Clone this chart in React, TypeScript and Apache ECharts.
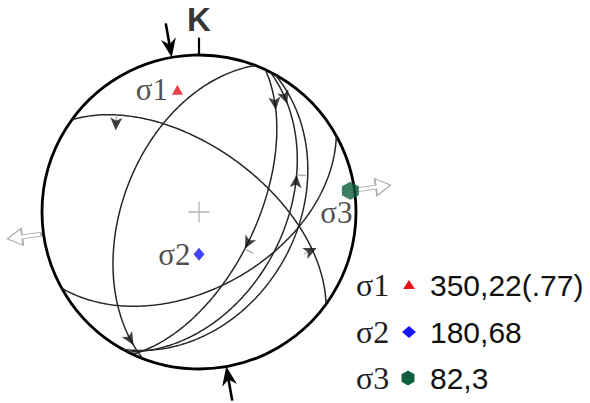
import React, { useEffect, useRef } from 'react';
import * as echarts from 'echarts';

// ---- data ----
const sigmaNames = ['σ1', 'σ2', 'σ3'];
const sigmaTrend = [350, 180, 82];
const sigmaPlunge = [22, 68, 3];
const stressRatio = '.77';
const sigmaColors = ['#e5121c', '#1414ff', '#0c5f3d'];

// fault planes (dip direction, dip)
const planeDipDir = [36, 291, 151, 115, 117, 119];
const planeDip = [57, 50, 50, 60, 45, 38];

// slip markers on planes
const slipPlane = [0, 0, 1, 3, 3, 4, 4];
const slipPos = [24, 150, 8, 23, 97, 17, 52];
const slipTurn = [90, -90, 180, 0, 0, 0, 180];
const slipOffset = [0.1, 0.03, 0, 0, 0, 0, 0];
const slipTickLen = [0.07, 0.06, 0, 0, 0.06, 0, 0.06];
const slipTickTurn = [90, 90, 0, 0, -90, 0, -90];

// ---- geometry helpers ----
const D2R = Math.PI / 180;
const norm = (a: number) => ((a % 360) + 360) % 360;
function linePolar(trend: number, plunge: number): [number, number] {
  return [Math.SQRT2 * Math.sin(((90 - plunge) / 2) * D2R), norm(trend)];
}
function planeLine(dd: number, dip: number, t: number): [number, number] {
  const st = (dd - 90) * D2R, ddr = dd * D2R, dr = dip * D2R, tr = t * D2R;
  const s = [Math.sin(st), Math.cos(st), 0];
  const d = [Math.sin(ddr) * Math.cos(dr), Math.cos(ddr) * Math.cos(dr), Math.sin(dr)];
  const v = s.map((si, i) => Math.cos(tr) * si + Math.sin(tr) * d[i]);
  const pl = Math.asin(Math.max(-1, Math.min(1, v[2]))) / D2R;
  const tr2 = Math.atan2(v[0], v[1]) / D2R;
  return linePolar(tr2, Math.max(0, pl));
}
const toXY = (p: [number, number]) => [p[0] * Math.sin(p[1] * D2R), p[0] * Math.cos(p[1] * D2R)];
const fromXY = (x: number, y: number): [number, number] => [Math.hypot(x, y), norm(Math.atan2(x, y) / D2R)];
const move = (p: [number, number], az: number, dist: number): [number, number] => {
  const [x, y] = toXY(p);
  return fromXY(x + dist * Math.sin(az * D2R), y + dist * Math.cos(az * D2R));
};

const R = 157;
const CX = 199;
const CY = 212;

const hexPath = 'path://M10,0 L18.66,5 L18.66,15 L10,20 L1.34,15 L1.34,5 Z';
const hollowArrow = 'path://M9,0 L18,15 L11,15 L11,34 L7,34 L7,15 L0,15 Z';
const crossPath = 'path://M9.4,0 h1.2 v9.4 h9.4 v1.2 h-9.4 v9.4 h-1.2 v-9.4 h-9.4 v-1.2 h9.4 z';

function buildOption() {
  const series: any[] = [];
  planeDipDir.forEach((dd, i) => {
    series.push({
      type: 'line', coordinateSystem: 'polar', silent: true, clip: false,
      showSymbol: false, symbol: 'none', z: 2,
      lineStyle: { color: '#262626', width: 1.5 },
      data: Array.from({ length: 181 }, (_, t) => planeLine(dd, planeDip[i], t)),
    });
  });

  const slipData: any[] = [];
  slipPlane.forEach((pi, k) => {
    const dd = planeDipDir[pi], dip = planeDip[pi], t = slipPos[k];
    const a = planeLine(dd, dip, t);
    const p0 = toXY(planeLine(dd, dip, t - 0.5));
    const p1 = toXY(planeLine(dd, dip, t + 0.5));
    const tan = Math.atan2(p1[0] - p0[0], p1[1] - p0[1]) / D2R;
    const dir = tan + slipTurn[k];
    slipData.push({ value: move(a, dir, slipOffset[k]), symbolRotate: -dir });
    if (slipTickLen[k] > 0) {
      series.push({
        type: 'line', coordinateSystem: 'polar', silent: true, clip: false,
        showSymbol: false, symbol: 'none', z: 3,
        lineStyle: { color: '#a8a8a8', width: 1.2 },
        data: [a, move(a, tan + slipTickTurn[k], slipTickLen[k])],
      });
    }
  });
  series.push({
    type: 'scatter', coordinateSystem: 'polar', silent: true, clip: false, z: 5,
    symbol: 'arrow', symbolSize: [9, 13], itemStyle: { color: '#111' },
    data: slipData,
  });

  // compression arrows (sigma1) and north tick, drawn with a custom series
  const compAz = [sigmaTrend[0], norm(sigmaTrend[0] + 180)];
  series.push({
    type: 'custom', coordinateSystem: 'polar', silent: true, clip: false, z: 6,
    data: compAz.map((az) => [1.0, az]),
    renderItem: (params: any, api: any) => {
      const r = api.value(0);
      const az = api.value(1);
      const tip = api.coord([r, az]);
      const tail = api.coord([r + 0.22, az]);
      const L = Math.hypot(tail[0] - tip[0], tail[1] - tip[1]);
      const ux = (tail[0] - tip[0]) / L, uy = (tail[1] - tip[1]) / L;
      const nx = -uy, ny = ux;
      const hl = 19, hw = 7.5, notch = 13;
      return {
        type: 'group',
        children: [
          {
            type: 'line',
            shape: { x1: tip[0] + ux * notch, y1: tip[1] + uy * notch, x2: tail[0], y2: tail[1] },
            style: { stroke: '#000', lineWidth: 2.6 },
          },
          {
            type: 'polygon',
            shape: {
              points: [
                [tip[0], tip[1]],
                [tip[0] + ux * hl + nx * hw, tip[1] + uy * hl + ny * hw],
                [tip[0] + ux * notch, tip[1] + uy * notch],
                [tip[0] + ux * hl - nx * hw, tip[1] + uy * hl - ny * hw],
              ],
            },
            style: { fill: '#000' },
          },
        ],
      };
    },
  });
  series.push({
    type: 'custom', coordinateSystem: 'polar', silent: true, clip: false, z: 6,
    data: [[1.0, 0]],
    renderItem: (params: any, api: any) => {
      const a = api.coord([api.value(0), api.value(1)]);
      const b = api.coord([api.value(0) + 0.11, api.value(1)]);
      return {
        type: 'line',
        shape: { x1: a[0], y1: a[1], x2: b[0], y2: b[1] },
        style: { stroke: '#000', lineWidth: 2.2 },
      };
    },
  });

  // extension arrows (sigma3)
  series.push({
    type: 'scatter', coordinateSystem: 'polar', silent: true, clip: false, z: 6,
    symbol: hollowArrow, symbolSize: [17, 34],
    itemStyle: { color: '#fff', borderColor: '#9a9a9a', borderWidth: 1.3 },
    data: [sigmaTrend[2], norm(sigmaTrend[2] + 180)].map((az) => ({
      value: [1.125, az], symbolRotate: -az,
    })),
  });

  // centre cross
  series.push({
    type: 'scatter', coordinateSystem: 'polar', silent: true, clip: false, z: 1,
    symbol: crossPath, symbolSize: 21, itemStyle: { color: '#a0a0a0' },
    data: [[0, 0]],
  });

  // K label
  series.push({
    type: 'scatter', coordinateSystem: 'polar', silent: true, clip: false, z: 6,
    symbolSize: 1, itemStyle: { color: 'rgba(0,0,0,0)' },
    label: {
      show: true, position: 'top', distance: 1, formatter: 'K',
      fontSize: 33, fontWeight: 'bold', fontFamily: 'Liberation Sans', color: '#000',
    },
    data: [[1.11, 0]],
  });

  // stress axes
  const symbols = ['triangle', 'diamond', hexPath];
  const sizes = [[11, 10], [11, 13], [17, 18]];
  const labelPos: any[] = [
    { position: 'left', distance: 4 },
    { position: 'left', distance: 3 },
    { position: 'bottom', distance: 0, offset: [-14, -3] },
  ];
  series.push({
    type: 'scatter', coordinateSystem: 'polar', silent: true, clip: false, z: 8,
    data: sigmaNames.map((n, i) => ({
      name: n,
      value: linePolar(sigmaTrend[i], sigmaPlunge[i]),
      symbol: symbols[i],
      symbolSize: sizes[i],
      itemStyle: { color: sigmaColors[i] },
      label: {
        show: true, formatter: n, fontSize: 31, fontFamily: 'Liberation Serif',
        color: '#1e1e1e', ...labelPos[i],
      },
    })),
  });

  // legend (graphic)
  const rowY = [285, 332, 378];
  const mx = 409;
  const graphic: any[] = [];
  sigmaNames.forEach((n, i) => {
    const y = rowY[i];
    graphic.push({
      type: 'text', x: 356, y: y, z: 10,
      style: {
        text: n, font: '32px "Liberation Serif"', fill: '#1e1e1e',
        textVerticalAlign: 'middle', verticalAlign: 'middle',
      },
    });
    let pts: number[][] = [];
    if (i === 0) pts = [[mx, y - 5], [mx + 6, y + 4], [mx - 6, y + 4]];
    if (i === 1) pts = [[mx, y - 6], [mx + 7, y], [mx, y + 6], [mx - 7, y]];
    if (i === 2) {
      for (let k = 0; k < 6; k++) {
        const a = (k * 60) * D2R;
        pts.push([mx - 1 + 7.5 * Math.sin(a), y - 7.5 * Math.cos(a)]);
      }
    }
    graphic.push({
      type: 'polygon', z: 10, shape: { points: pts },
      style: { fill: sigmaColors[i] },
    });
    const val = `${sigmaTrend[i]},${sigmaPlunge[i]}` + (i === 0 ? `(${stressRatio})` : '');
    graphic.push({
      type: 'text', x: 430, y: y, z: 10,
      style: {
        text: val, font: '30px "Liberation Sans"', fill: '#111',
        textVerticalAlign: 'middle', verticalAlign: 'middle',
      },
    });
  });

  return {
    animation: false,
    backgroundColor: '#fff',
    polar: { center: [CX, CY], radius: R },
    angleAxis: {
      type: 'value', min: 0, max: 360, startAngle: 90, clockwise: true,
      axisLine: { show: true, lineStyle: { color: '#000', width: 2.8 } },
      axisTick: { show: false }, axisLabel: { show: false },
      splitLine: { show: false }, splitArea: { show: false },
    },
    radiusAxis: {
      type: 'value', min: 0, max: 1, show: false,
      axisLine: { show: false }, axisTick: { show: false }, axisLabel: { show: false },
      splitLine: { show: false }, splitArea: { show: false },
    },
    series,
    graphic,
  };
}

export default function App() {
  const ref = useRef<HTMLDivElement>(null);
  useEffect(() => {
    if (!ref.current) return;
    const chart = echarts.init(ref.current, undefined, { renderer: 'svg' });
    chart.setOption(buildOption() as any);
    return () => chart.dispose();
  }, []);
  return (
    <div
      ref={ref}
      style={{ position: 'fixed', left: 0, top: 0, width: 590, height: 403, background: '#fff' }}
    />
  );
}
